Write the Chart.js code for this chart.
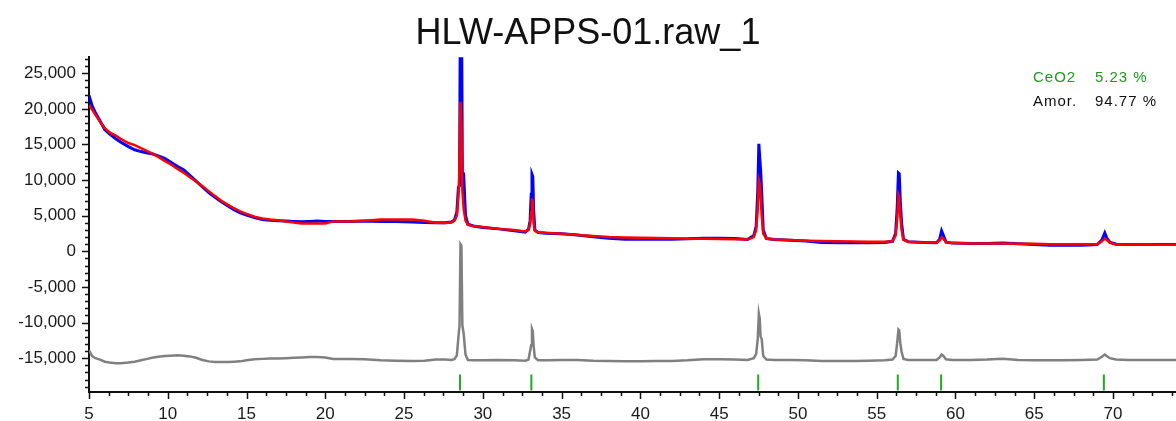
<!DOCTYPE html>
<html>
<head>
<meta charset="utf-8">
<title>HLW-APPS-01.raw_1</title>
<script src="https://cdn.jsdelivr.net/npm/chart.js@4.4.0/dist/chart.umd.min.js"></script>
<style>
  html, body { margin: 0; padding: 0; background: #fff; }
  #xrdChart { display: block; }
</style>
</head>
<body>
<canvas id="xrdChart" width="1176" height="421"></canvas>
<script>
// 2-theta positions (deg) shared by the observed / calculated / difference traces
var twoTheta = [
  5.0, 5.2, 5.4, 5.7, 6.0, 6.3, 6.7, 7.0, 7.5, 7.9, 8.3, 8.7, 9.0, 9.4, 9.8,
  10.2, 10.6, 11.0, 11.4, 11.8, 12.2, 12.6, 13.0, 13.4, 13.8, 14.2, 14.6, 15.0,
  15.5, 16.0, 16.5, 17.0, 17.5, 18.0, 18.5, 19.0, 19.5, 20.0, 20.5, 21.5, 22.5,
  23.5, 24.5, 25.5, 26.3, 27.0, 27.6, 28.0, 28.2, 28.35, 28.45, 28.52, 28.58,
  28.64, 28.7, 28.78, 28.9, 29.05, 29.4, 30.0, 31.0, 32.0, 32.7, 32.9, 33.0,
  33.07, 33.12, 33.17, 33.22, 33.3, 33.5, 34.0, 35.0, 36.0, 37.0, 38.0, 39.0,
  40.0, 41.0, 42.0, 43.0, 44.0, 45.0, 46.0, 46.8, 47.2, 47.35, 47.45, 47.52,
  47.58, 47.63, 47.7, 47.8, 48.0, 48.5, 49.5, 50.5, 51.5, 52.5, 53.5, 54.5,
  55.5, 56.0, 56.2, 56.3, 56.38, 56.43, 56.5, 56.58, 56.7, 57.0, 58.0, 58.8,
  59.0, 59.12, 59.22, 59.4, 59.8, 61.0, 62.0, 63.0, 64.0, 65.0, 66.0, 67.0,
  68.0, 69.0, 69.3, 69.48, 69.6, 69.8, 70.2, 71.0, 72.0, 73.0, 74.0
];

// measured counts (blue)
var observed = [
  21900, 20400, 19500, 18300, 17100, 16500, 15800, 15350, 14700, 14250, 14000, 13800, 13700, 13400, 13050,
  12500, 11950, 11450, 10650, 9850, 9050, 8250, 7600, 6950, 6400, 5850, 5400, 5100,
  4750, 4450, 4350, 4300, 4250, 4200, 4150, 4200, 4250, 4200, 4200, 4200, 4250,
  4200, 4200, 4100, 4050, 4000, 4000, 4100, 4400, 5500, 9000, 9200, 37000,
  37000, 11000, 10900, 5000, 3800, 3550, 3350, 3150, 2900, 2700, 3100, 4300,
  8000, 10800, 10500, 6000, 3000, 2650, 2550, 2450, 2300, 2050, 1850, 1700,
  1700, 1700, 1700, 1750, 1850, 1850, 1800, 1650, 2200, 3500, 8300, 15100,
  13000, 11500, 8300, 3000, 1800, 1650, 1550, 1450, 1250, 1200, 1200, 1200,
  1250, 1400, 2500, 6000, 11000, 10900, 7000, 4000, 1700, 1350, 1250, 1200,
  1700, 2850, 2300, 1300, 1150, 1100, 1100, 1150, 1050, 950, 850, 900,
  850, 950, 1600, 2570, 1900, 1300, 1000, 950, 950, 940, 940
];

// Rietveld fit (red)
var calculated = [
  20500, 19900, 19200, 18200, 17300, 16700, 16250, 15800, 15200, 14900, 14500, 14050, 13750, 13250, 12700,
  12200, 11600, 11050, 10400, 9800, 9150, 8450, 7750, 7100, 6550, 6050, 5600, 5250,
  4850, 4600, 4450, 4350, 4200, 4050, 3900, 3900, 3900, 3900, 4200, 4200, 4300,
  4450, 4450, 4450, 4300, 4000, 3980, 4050, 4300, 5000, 7800, 12000, 21000,
  18000, 8500, 6000, 4300, 3700, 3550, 3400, 3150, 3000, 2800, 3000, 3800,
  5500, 7400, 6800, 4000, 2900, 2650, 2600, 2450, 2300, 2150, 2000, 1950,
  1900, 1870, 1820, 1780, 1750, 1720, 1700, 1650, 2000, 3000, 6000, 9970,
  9500, 8000, 5000, 2500, 1750, 1650, 1580, 1500, 1450, 1400, 1380, 1350,
  1350, 1400, 2200, 4500, 7870, 7500, 5000, 3000, 1600, 1350, 1250, 1250,
  1500, 1970, 1800, 1300, 1150, 1100, 1100, 1080, 1050, 1050, 1000, 1000,
  980, 980, 1400, 1780, 1600, 1200, 970, 950, 940, 930, 930
];

// observed - calculated, plotted with an offset (grey)
var difference = [
  -13900, -14700, -15000, -15200, -15500, -15600, -15700, -15700, -15600, -15500, -15300, -15100, -14950, -14800, -14700,
  -14650, -14600, -14650, -14750, -14950, -15250, -15450, -15550, -15550, -15550, -15500, -15450, -15300,
  -15150, -15100, -15050, -15050, -15000, -14950, -14900, -14850, -14850, -14900, -15100, -15100, -15150,
  -15300, -15350, -15400, -15350, -15200, -15200, -15250, -15150, -14600, -12000, -10400, 1000,
  800, -10400, -11500, -14500, -15250, -15300, -15300, -15250, -15300, -15350, -15200, -14000,
  -13200, -10900, -11200, -13200, -14900, -15300, -15300, -15250, -15250, -15350, -15400, -15450,
  -15450, -15400, -15400, -15300, -15150, -15150, -15200, -15250, -15000, -14400, -12300, -8750,
  -9500, -12000, -12300, -14700, -15200, -15250, -15250, -15300, -15400, -15400, -15400, -15350,
  -15300, -15200, -14700, -12900, -10990, -11100, -12900, -14100, -15100, -15250, -15250, -15250,
  -14900, -14500, -14650, -15150, -15250, -15250, -15200, -15100, -15250, -15300, -15300, -15300,
  -15250, -15200, -14800, -14500, -14700, -15000, -15200, -15250, -15250, -15250, -15250
];

// CeO2 reflection positions (green tick marks)
var reflections = [28.55, 33.08, 47.48, 56.34, 59.09, 69.42];
var reflectionLevel = -18400;

// axis labels
var countTicks = [-15000, -10000, -5000, 0, 5000, 10000, 15000, 20000, 25000];
var angleTicks = [5, 10, 15, 20, 25, 30, 35, 40, 45, 50, 55, 60, 65, 70];

// phase quantification
var phaseNames = ['CeO2', 'Amor.'];
var phaseFractions = [5.23, 94.77];
var phaseColors = ['#1e9a1e', '#111111'];

function toPoints(ys) {
  return twoTheta.map(function (t, i) { return { x: t, y: ys[i] }; });
}

var FONT = '"Liberation Sans", Arial, sans-serif';

// small outward major/minor ticks on both axes
var axisTicks = {
  id: 'axisTicks',
  afterDraw: function (chart) {
    var ctx = chart.ctx, a = chart.chartArea;
    var xs = chart.scales.x, ys = chart.scales.y;
    ctx.save();
    ctx.strokeStyle = '#111';
    ctx.lineWidth = 1.5;
    ctx.beginPath();
    for (var v = -19000; v <= 27000; v += 1000) {
      var py = Math.round(ys.getPixelForValue(v)) + 0.5;
      if (py < a.top || py > a.bottom) continue;
      var len = (v % 5000 === 0) ? 7 : 4;
      ctx.moveTo(a.left - len, py);
      ctx.lineTo(a.left, py);
    }
    for (var t = 5; t <= 74; t += 1.25) {
      var px = Math.round(xs.getPixelForValue(t)) + 0.5;
      if (px < a.left || px > a.right) continue;
      var l = (t % 5 === 0) ? 7 : 4;
      ctx.moveTo(px, a.bottom);
      ctx.lineTo(px, a.bottom + l);
    }
    ctx.stroke();
    ctx.restore();
  }
};

// phase fractions in the top right corner
var phaseBox = {
  id: 'phaseBox',
  afterDraw: function (chart) {
    var ctx = chart.ctx;
    var right = chart.width;
    ctx.save();
    ctx.font = '15px ' + FONT;
    ctx.letterSpacing = '1px';
    ctx.textBaseline = 'alphabetic';
    for (var i = 0; i < phaseNames.length; i++) {
      var y = 82 + i * 24;
      ctx.fillStyle = phaseColors[i];
      ctx.fillText(phaseNames[i], right - 143, y);
      ctx.fillText(phaseFractions[i].toFixed(2) + ' %', right - 81, y);
    }
    ctx.restore();
  }
};

var ctx = document.getElementById('xrdChart').getContext('2d');
var chart = new Chart(ctx, {
  type: 'line',
  data: {
    datasets: [
      {
        label: 'Calculated',
        data: toPoints(calculated),
        borderColor: 'rgb(255, 0, 0)',
        borderWidth: 2.5,
        pointRadius: 0,
        tension: 0,
        order: 1
      },
      {
        label: 'Observed',
        data: toPoints(observed),
        borderColor: 'rgb(0, 0, 255)',
        borderWidth: 3,
        pointRadius: 0,
        tension: 0,
        order: 2
      },
      {
        label: 'Difference',
        data: toPoints(difference),
        borderColor: 'rgb(128, 128, 128)',
        borderWidth: 2.5,
        pointRadius: 0,
        tension: 0,
        order: 3
      },
      {
        label: 'CeO2',
        type: 'scatter',
        data: reflections.map(function (r) { return { x: r, y: reflectionLevel }; }),
        showLine: false,
        pointStyle: 'line',
        rotation: 90,
        pointRadius: 8,
        pointBorderWidth: 2,
        borderColor: '#22aa22',
        backgroundColor: '#22aa22',
        order: 0
      }
    ]
  },
  options: {
    responsive: false,
    animation: false,
    // no extra room for the reflection markers, the plot runs to the right edge
    layout: { padding: 0, autoPadding: false },
    plugins: {
      legend: { display: false },
      tooltip: { enabled: false },
      title: {
        display: true,
        text: 'HLW-APPS-01.raw_1',
        color: '#111',
        font: { family: FONT, size: 36, weight: 'normal' },
        padding: { top: 12, bottom: 2 }
      }
    },
    scales: {
      x: {
        type: 'linear',
        min: 5,
        max: 74,
        afterBuildTicks: function (s) {
          s.ticks = angleTicks.map(function (v) { return { value: v }; });
        },
        afterFit: function (s) {
          s.height = 29;
          s.paddingLeft = 0;
          s.paddingRight = 0;
        },
        border: { display: true, color: '#111', width: 2 },
        grid: { drawOnChartArea: false, drawTicks: false },
        ticks: {
          padding: 12,
          color: '#1a1a1a',
          maxRotation: 0,
          autoSkip: false,
          font: { family: FONT, size: 17 }
        }
      },
      y: {
        type: 'linear',
        min: -19750,
        max: 27250,
        afterBuildTicks: function (s) {
          s.ticks = countTicks.map(function (v) { return { value: v }; });
        },
        afterFit: function (s) {
          s.width = 89;
          s.paddingTop = 0;
          s.paddingBottom = 0;
        },
        border: { display: true, color: '#111', width: 2 },
        grid: { drawOnChartArea: false, drawTicks: false },
        ticks: {
          padding: 13,
          color: '#1a1a1a',
          autoSkip: false,
          font: { family: FONT, size: 17 },
          callback: function (v) { return v.toLocaleString('en-US'); }
        }
      }
    }
  },
  plugins: [axisTicks, phaseBox]
});
</script>
</body>
</html>
